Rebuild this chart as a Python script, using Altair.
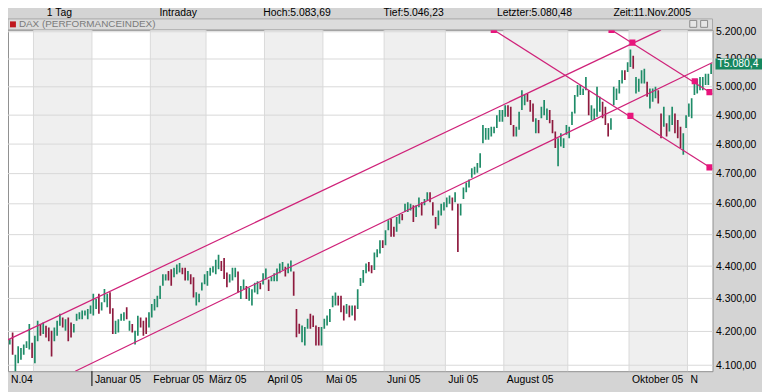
import altair as alt
import pandas as pd

# ---- daily DAX bars (high / low) ----
HIGH = [
    4166, 4141, 4187, 4177, 4197, 4131, 4156, 4151, 4161, 4171,
    4222, 4166, 4187, 4232, 4222, 4227, 4217, 4212, 4202, 4212,
    4232, 4253, 4242, 4237, 4242, 4227, 4222, 4253, 4258, 4263,
    4263, 4268, 4278, 4314, 4298, 4314, 4288, 4329, 4314, 4319,
    4270, 4232, 4237, 4253, 4258, 4273, 4232, 4222, 4202, 4247,
    4242, 4232, 4242, 4258, 4283, 4298, 4308, 4339, 4375, 4375,
    4385, 4390, 4395, 4405, 4410, 4395, 4395, 4385, 4375, 4365,
    4319, 4314, 4349, 4375, 4385, 4395, 4400, 4420, 4436, 4416,
    4426, 4380, 4375, 4395, 4395,
    4383, 4338, 4358, 4338, 4333, 4328, 4348, 4353, 4348, 4378,
    4393, 4358, 4368, 4378, 4393, 4408, 4413, 4398, 4408, 4418,
    4383, 4268, 4223, 4218, 4213, 4238, 4253, 4248, 4218, 4213,
    4213, 4238, 4248, 4268, 4308, 4318, 4308, 4308, 4278, 4283,
    4278, 4278, 4278, 4328, 4363, 4388, 4408, 4413, 4403, 4443,
    4453, 4482, 4482, 4514, 4546, 4552, 4525, 4557, 4567, 4567,
    4600, 4605, 4600, 4595, 4595, 4621, 4605, 4616, 4638, 4638,
    4605, 4557, 4578, 4600, 4605, 4621, 4627, 4621, 4638, 4600,
    4600, 4654, 4670, 4680, 4718, 4723,
    4736, 4769, 4866, 4855, 4855, 4860, 4860, 4900, 4918, 4918,
    4935, 4935, 4929, 4866, 4860, 4912, 4988, 4971, 4976, 4953,
    4941, 4889, 4883, 4929, 4953, 4923, 4918, 4883, 4843, 4820,
    4837, 4820, 4866, 4860, 4912, 4971, 5006, 5006, 4994, 5035,
    4988, 4935, 4923, 5000, 4965, 4947, 4929, 4872, 4889, 5000,
    4994, 5024, 5059, 5059, 5088, 5135, 5112, 5035, 5029, 5059,
    5065, 5018, 4994, 4994, 5000, 4988, 4906, 4929, 4872, 4900,
    4929, 4906, 4883, 4860, 4837, 4900, 4941, 4959, 5018, 5029,
    5035, 5035, 5047, 5047, 5083.69,
]
LOW = [
    4126, 4100, 4116, 4161, 4131, 4080, 4106, 4116, 4131, 4151,
    4146, 4121, 4106, 4171, 4187, 4192, 4182, 4171, 4126, 4171,
    4187, 4217, 4212, 4202, 4171, 4182, 4197, 4232, 4237, 4237,
    4248, 4237, 4253, 4248, 4268, 4253, 4263, 4288, 4273, 4253,
    4192, 4192, 4197, 4232, 4232, 4237, 4202, 4197, 4161, 4187,
    4212, 4187, 4192, 4212, 4242, 4263, 4273, 4298, 4339, 4355,
    4355, 4339, 4365, 4375, 4380, 4375, 4355, 4355, 4344, 4303,
    4278, 4288, 4324, 4344, 4339, 4370, 4380, 4375, 4390, 4385,
    4360, 4334, 4349, 4355, 4365,
    4318, 4298, 4328, 4298, 4293, 4278, 4318, 4313, 4328, 4343,
    4358, 4323, 4353, 4353, 4353, 4378, 4388, 4368, 4378, 4383,
    4308, 4183, 4193, 4168, 4158, 4208, 4208, 4213, 4158, 4158,
    4158, 4208, 4218, 4228, 4273, 4278, 4278, 4258, 4233, 4253,
    4243, 4248, 4233, 4268, 4338, 4348, 4378, 4383, 4378, 4388,
    4428, 4440, 4457, 4466, 4514, 4493, 4493, 4509, 4535, 4546,
    4573, 4573, 4578, 4541, 4557, 4589, 4562, 4595, 4611, 4605,
    4562, 4519, 4530, 4562, 4578, 4589, 4600, 4578, 4605, 4445,
    4562, 4616, 4638, 4654, 4686, 4697,
    4703, 4720, 4803, 4815, 4815, 4826, 4837, 4855, 4877, 4877,
    4894, 4894, 4866, 4826, 4826, 4849, 4918, 4935, 4947, 4912,
    4877, 4837, 4837, 4889, 4900, 4883, 4872, 4837, 4787, 4725,
    4792, 4787, 4832, 4820, 4866, 4906, 4965, 4971, 4971, 4988,
    4900, 4883, 4883, 4894, 4912, 4889, 4866, 4826, 4849, 4935,
    4953, 4976, 5012, 5024, 5053, 5071, 5065, 4976, 4982, 5012,
    5012, 4965, 4923, 4947, 4959, 4941, 4820, 4860, 4826, 4843,
    4866, 4837, 4820, 4787, 4764, 4855, 4894, 4889, 4971, 4976,
    4988, 4988, 5006, 5006, 5046.23,
]
# G = up day (green), R = down day (red)
DIRECTION = (
    "RGGGRGGGGG" "GRGGRGRRRG" "GGRGRRGGGG" "GGGGGRGGGR" "RGGGGRGRGG"
    "RRRGGGGGGG" "RRGGGRRGRR" "GGGGGGGGGR" "RRGGG"
    "RGGRGGGGRG" "GRGGGGGRGG" "RRRGGGRRRR" "GGGGGGRRRG" "RGRGGGGRRG"
    "GGRGGRRGGR" "GGGRGGRGGR" "RRGGGGGRGR" "GGGGGG"
    "GGGGGGGGGG" "GRRRGGGGRR" "RGRGGGRRRG" "GGGGGGGGGG" "RGGGGRRRGG"
    "GGGRGGRGGG" "GRGGGRRGRG" "GRRRGGGGGG" "GGGGG"
)

# first trading-day index of each month and its axis label
MONTH_START = [0, 12, 33, 54, 74, 95, 116, 138, 160, 181, 204, 226, 247]
MONTH_LABELS = ["N.04", "", "Januar 05", "Februar 05", "März 05", "April 05",
                "Mai 05", "Juni 05", "Juli 05", "August 05", "", "Oktober 05", "N"]
Y_TICKS = [4100, 4200, 4300, 4400, 4500, 4600, 4700, 4800, 4900, 5000, 5100, 5200]

# drawn trend lines (index, value) -> (index, value)
TREND_X1 = [-0.5, 26.5, 176.9, 219.2]
TREND_V1 = [4164, 4082.7, 5207, 5207]
TREND_X2 = [237.0, 255.5, 255.5, 255.5]
TREND_V2 = [5207, 5087.6, 4715.8, 4974]
# anchor squares of the trend lines
SQ_X = [176.9, 219.2, 226.7, 226.0, 249.1, 254.4, 254.4]
SQ_V = [5207, 5207, 5159.8, 4897.5, 5019.8, 4981, 4721]

HEADER_TEXT = ["1 Tag", "Intraday", "Hoch:5.083,69", "Tief:5.046,23",
               "Letzter:5.080,48", "Zeit:11.Nov.2005"]
HEADER_X = [60, 180, 300, 418, 540, 659]
LAST_LABEL = "T5.080,4"

FONT = "Liberation Sans"
W, H = 712, 345
N = len(HIGH)
XMIN = N - 0.5 - W / 2.8125   # page margin hides the first few bars

XS = alt.Scale(domain=[XMIN, N - 0.5], nice=False, zero=False)
YS = alt.Scale(type="log", domain=[4082.7, 5207.3], nice=False)

label_expr = ("replace(replace(replace(format(datum.value, ',.2f'), ',', '#'), '.', ','), '#', '.')")
YAX = alt.Axis(orient="right", values=Y_TICKS, labelExpr=label_expr, grid=False,
               ticks=False, domain=False, title=None, labelPadding=3,
               labelFont=FONT, labelFontSize=10.5, labelColor="#000000")

bars = pd.DataFrame({
    "i": list(range(N)), "high": HIGH, "low": LOW,
    "dir": ["up" if c == "G" else "down" for c in DIRECTION[:N]],
})
bounds = [s - 0.5 for s in MONTH_START] + [N - 0.5]
bands = pd.DataFrame({
    "x1": [max(bounds[k], XMIN) for k in (1, 3, 5, 7, 9, 11)],
    "x2": [bounds[k + 1] for k in (1, 3, 5, 7, 9, 11)],
})
vgrid = pd.DataFrame({"x": bounds[1:-1]})
hgrid = pd.DataFrame({"v": Y_TICKS})
mlab = pd.DataFrame({"x": [max(b, XMIN) for b in bounds[:-1]], "t": MONTH_LABELS})
mlab = mlab[mlab.t != ""]
trend = pd.DataFrame({"x1": TREND_X1, "v1": TREND_V1, "x2": TREND_X2, "v2": TREND_V2})
squares = pd.DataFrame({"x": SQ_X, "v": SQ_V})
one = pd.DataFrame({"a": [0]})

band_layer = alt.Chart(bands).mark_rect(color="#efefef", clip=True).encode(
    x=alt.X("x1:Q", scale=XS, axis=None), x2="x2:Q",
    y=alt.value(0), y2=alt.value(H))
vgrid_layer = alt.Chart(vgrid).mark_rule(color="#dadada", strokeWidth=1).encode(
    x=alt.X("x:Q", scale=XS, axis=None), y=alt.value(0), y2=alt.value(H))
hgrid_layer = alt.Chart(hgrid).mark_rule(color="#d9d9d9", strokeWidth=1).encode(
    y=alt.Y("v:Q", scale=YS, axis=YAX), x=alt.value(0), x2=alt.value(W))

bar_layer = alt.Chart(bars).mark_rule(strokeWidth=1.7, clip=True).encode(
    x=alt.X("i:Q", scale=XS, axis=None),
    y=alt.Y("low:Q", scale=YS, axis=YAX),
    y2="high:Q",
    color=alt.Color("dir:N", scale=alt.Scale(domain=["up", "down"],
                                             range=["#1f8c68", "#8e1a3e"]), legend=None))

trend_layer = alt.Chart(trend).mark_rule(color="#cf2179", strokeWidth=1.2, clip=True).encode(
    x=alt.X("x1:Q", scale=XS, axis=None), x2="x2:Q",
    y=alt.Y("v1:Q", scale=YS, axis=YAX), y2="v2:Q")
sq_layer = alt.Chart(squares).mark_square(size=38, color="#e8157c", opacity=1, clip=True).encode(
    x=alt.X("x:Q", scale=XS, axis=None), y=alt.Y("v:Q", scale=YS, axis=YAX))

xlab_layer = alt.Chart(mlab).mark_text(align="left", baseline="middle", dx=3,
                                       font=FONT, fontSize=10.5, color="#000000").encode(
    x=alt.X("x:Q", scale=XS, axis=None), y=alt.value(H + 9), text="t:N")
year_tick = alt.Chart(one).mark_rule(color="#000000", strokeWidth=1).encode(
    x=alt.value((MONTH_START[2] - 0.5 - XMIN) * 2.8125), y=alt.value(H), y2=alt.value(H + 15))

# header and title strip
strip = alt.Chart(one).mark_rect(fill="#dcdcdc", stroke="#a8a8a8", strokeWidth=1).encode(
    x=alt.value(0), x2=alt.value(W), y=alt.value(-11), y2=alt.value(0))
red_sq = alt.Chart(one).mark_rect(fill="#c0181e").encode(
    x=alt.value(2), x2=alt.value(8), y=alt.value(-8.5), y2=alt.value(-2.5))
title_t = alt.Chart(one).mark_text(align="left", baseline="middle", font=FONT,
                                   fontSize=10, color="#7a7a7a").encode(
    x=alt.value(11), y=alt.value(-5.5), text=alt.value("DAX (PERFORMANCEINDEX)"))
icons = [alt.Chart(one).mark_rect(fill="#e6e6e6", stroke="#8a8a8a", strokeWidth=1).encode(
    x=alt.value(px), x2=alt.value(px + 7), y=alt.value(-9.5), y2=alt.value(-2.5))
    for px in (689, 700)]
header = [alt.Chart(one).mark_text(align="center", baseline="middle", font=FONT,
                                   fontSize=10.5, color="#000000").encode(
    x=alt.value(hx - 8), y=alt.value(-16.5), text=alt.value(ht))
    for ht, hx in zip(HEADER_TEXT, HEADER_X)]

last_box = alt.Chart(one).mark_rect(fill="#16875f").encode(
    x=alt.value(W + 3), x2=alt.value(W + 50), y=alt.value(29), y2=alt.value(40))
last_txt = alt.Chart(one).mark_text(align="left", baseline="middle", font=FONT,
                                    fontSize=10.5, color="#ffffff").encode(
    x=alt.value(W + 5), y=alt.value(34.5), text=alt.value(LAST_LABEL))

chart = alt.layer(
    band_layer, vgrid_layer, hgrid_layer, bar_layer, trend_layer, sq_layer,
    xlab_layer, year_tick, strip, red_sq, title_t, *icons, *header, last_box, last_txt
).properties(
    width=W, height=H, background="#d4d4d4",
    padding={"left": 0, "top": 20, "right": 50, "bottom": 19},
    autosize=alt.AutoSizeParams(type="none"),
).configure_view(fill="#ffffff", stroke="#8f8f8f", strokeWidth=1)

chart.save("out.html", embed_options={"renderer": "svg", "actions": False})
